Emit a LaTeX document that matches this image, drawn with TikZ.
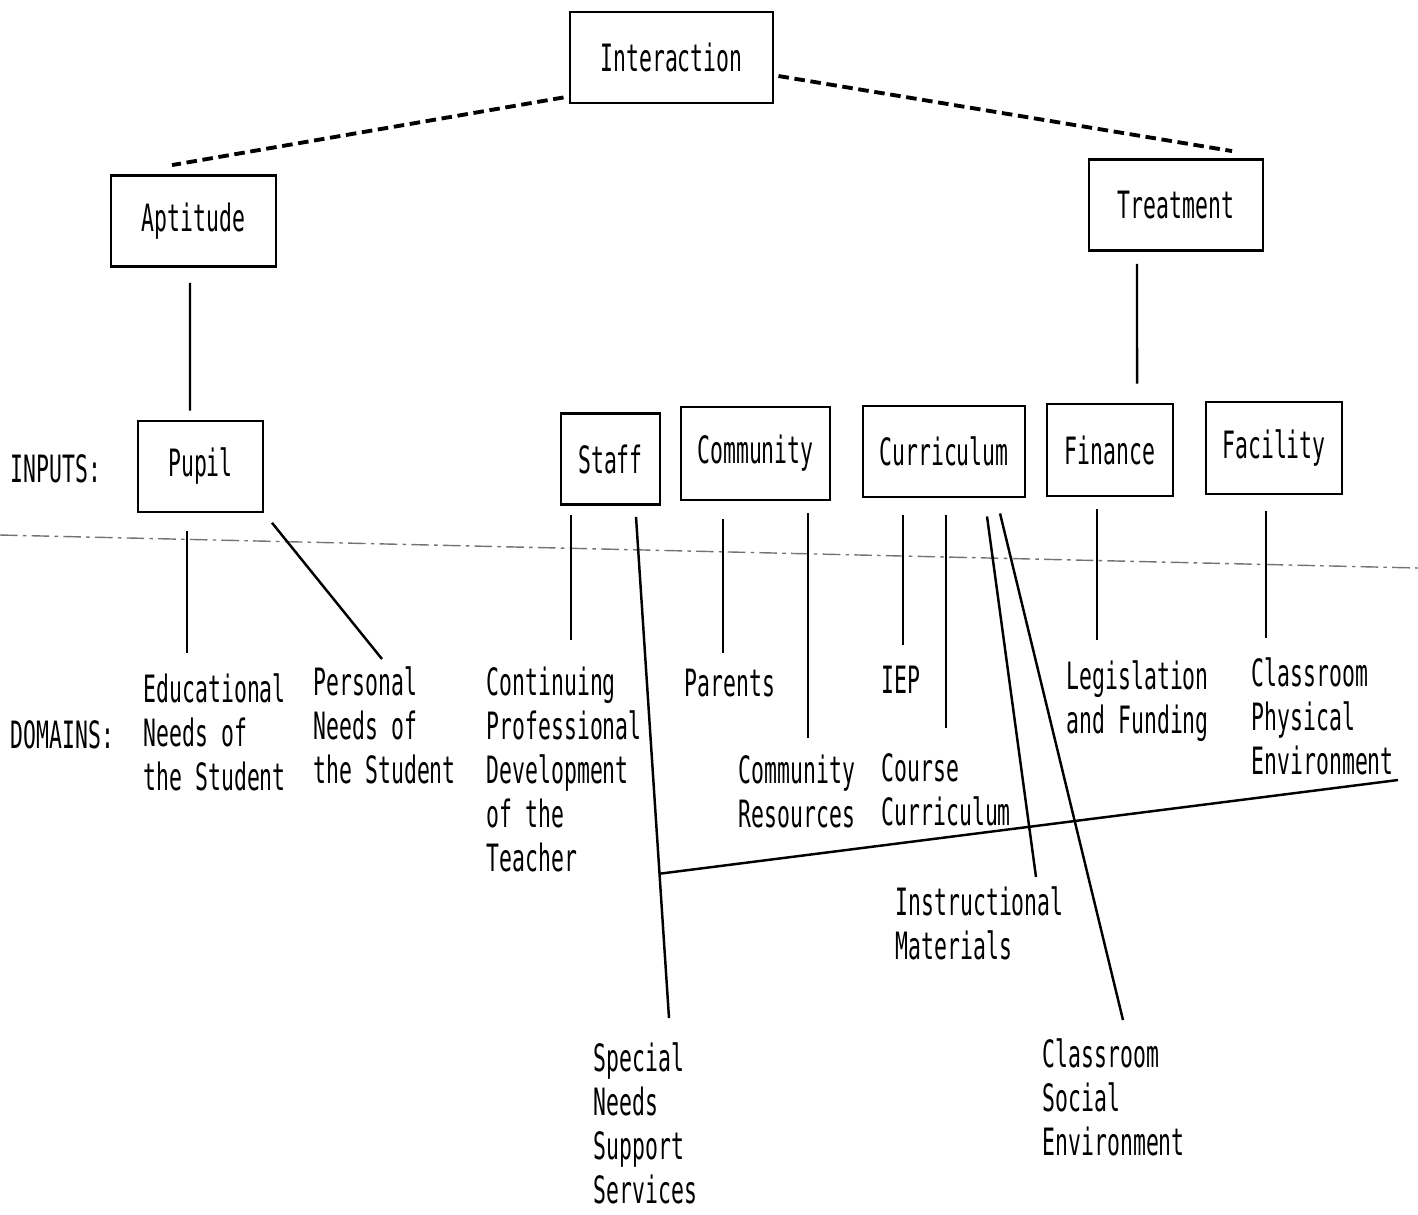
\documentclass[tikz,border=0pt]{standalone}
\usepackage{fontspec}
\newfontfamily\typefont[FakeStretch=0.57]{DejaVu Sans Mono}
\usepackage{tikz}
\usetikzlibrary{calc}

\begin{document}
\begin{tikzpicture}[x=0.01cm, y=-0.01cm,
        every node/.style={font=\typefont\fontsize{10.7pt}{12.5pt}\selectfont},
        box/.style={draw, line width=0.8pt, minimum height=0.91cm, inner sep=0pt},
        domtext/.style={align=left, inner sep=0pt, anchor=base west},
        link/.style={line width=0.7pt},
        dashlink/.style={line width=1.1pt, dash pattern=on 3pt off 1.6pt},
        divider/.style={line width=0.4pt, black!55, dash pattern=on 5pt off 1.5pt on 1pt off 1.5pt}]
        \useasboundingbox (0,0) rectangle (1418,1214);
        %% top boxes
        \node[box, minimum width=2.03cm] (inter) at (671.5,57.5) {Interaction};
        \node[box, minimum width=1.65cm] (apt) at (193.5,221) {Aptitude};
        \node[box, minimum width=1.74cm] (treat) at (1176,205) {Treatment};
        %% input boxes
        \node[box, minimum width=1.25cm] (pupil) at (200.5,466.5) {Pupil};
        \node[box, minimum width=0.99cm] (staff) at (610.5,459) {Staff};
        \node[box, minimum width=1.49cm, minimum height=0.93cm] (comm) at (755.5,453.5) {Community};
        \node[box, minimum width=1.62cm] (curr) at (944,451.5) {Curriculum};
        \node[box, minimum width=1.26cm, minimum height=0.92cm] (fin) at (1110,450) {Finance};
        \node[box, minimum width=1.36cm, minimum height=0.92cm] (fac) at (1274,448) {Facility};
        %% row labels
        \node[domtext] (inputs) at (10,482) {INPUTS:};
        \node[domtext] (domains) at (10,748) {DOMAINS:};
        %% domains (placed at the baseline of the last line)
        \node[domtext] (edu) at (143,790) {Educational\\Needs of\\the Student};
        \node[domtext] (pers) at (313,783) {Personal\\Needs of\\the Student};
        \node[domtext] (cpd) at (486,871) {Continuing\\Professional\\Development\\of the\\Teacher};
        \node[domtext] (par) at (684,696) {Parents};
        \node[domtext] (cres) at (738,827) {Community\\Resources};
        \node[domtext] (iep) at (881,693) {IEP};
        \node[domtext] (course) at (881,825) {Course\\Curriculum};
        \node[domtext] (instr) at (895,959) {Instructional\\Materials};
        \node[domtext] (legis) at (1066,733) {Legislation\\and Funding};
        \node[domtext] (phys) at (1251,774) {Classroom\\Physical\\Environment};
        \node[domtext] (sns) at (593,1203) {Special\\Needs\\Support\\Services};
        \node[domtext] (soc) at (1042,1155) {Classroom\\Social\\Environment};
        %% line ends
        \coordinate (edu-end) at (187,653);
        \coordinate (pers-end) at (382,659);
        \coordinate (cpd-end) at (571,640);
        \coordinate (sns-end) at (669,1018);
        \coordinate (par-end) at (723,653);
        \coordinate (cres-end) at (808,738);
        \coordinate (iep-end) at (903,645);
        \coordinate (course-end) at (946,728);
        \coordinate (instr-end) at (1036,877);
        \coordinate (soc-end) at (1123,1020);
        \coordinate (legis-end) at (1097,640);
        \coordinate (phys-end) at (1266,638);
        \coordinate (env-end) at (1398,780);
        \coordinate (div-l) at (0,535);
        \coordinate (div-r) at (1418,568);
        \coordinate (sns-start) at ([xshift=0.255cm,yshift=-0.11cm]staff.south);
        %% dashed links
        \draw[dashlink] ([xshift=-0.05cm,yshift=0.07cm]inter.south west) -- ([xshift=-0.215cm,yshift=0.09cm]apt.north);
        \draw[dashlink] ([xshift=0.04cm,yshift=-0.185cm]inter.east) -- ([xshift=0.56cm,yshift=0.07cm]treat.north);
        %% upper links
        \draw[link] ([xshift=-0.035cm,yshift=-0.15cm]apt.south) -- ([xshift=-0.105cm,yshift=0.09cm]pupil.north);
        \draw[link] ([xshift=-0.39cm,yshift=-0.12cm]treat.south) -- ([xshift=0.27cm,yshift=0.19cm]fin.north);
        %% divider
        \draw[divider] (div-l) -- (div-r);
        %% links to domains
        \draw[link, shorten <=0.18cm] (pupil.south -| edu-end) -- (edu-end);
        \draw[link, shorten <=0.12cm] (pupil.south east) -- (pers-end);
        \draw[link, shorten <=0.09cm] (staff.south -| cpd-end) -- (cpd-end);
        \draw[link] (sns-start) -- (sns-end);
        \draw[link, shorten <=0.18cm] (comm.south -| par-end) -- (par-end);
        \draw[link, shorten <=0.12cm] (comm.south -| cres-end) -- (cres-end);
        \draw[link, shorten <=0.17cm] (curr.south -| iep-end) -- (iep-end);
        \draw[link, shorten <=0.17cm] (curr.south -| course-end) -- (course-end);
        \draw[link] ([xshift=0.43cm,yshift=-0.18cm]curr.south) -- (instr-end);
        \draw[link] ([xshift=0.56cm,yshift=-0.15cm]curr.south) -- (soc-end);
        \draw[link, shorten <=0.12cm] (fin.south -| legis-end) -- (legis-end);
        \draw[link, shorten <=0.16cm] (fac.south -| phys-end) -- (phys-end);
        \draw[link] (env-end) -- ($(sns-start)!0.712!(sns-end)$);
\end{tikzpicture}
\end{document}
